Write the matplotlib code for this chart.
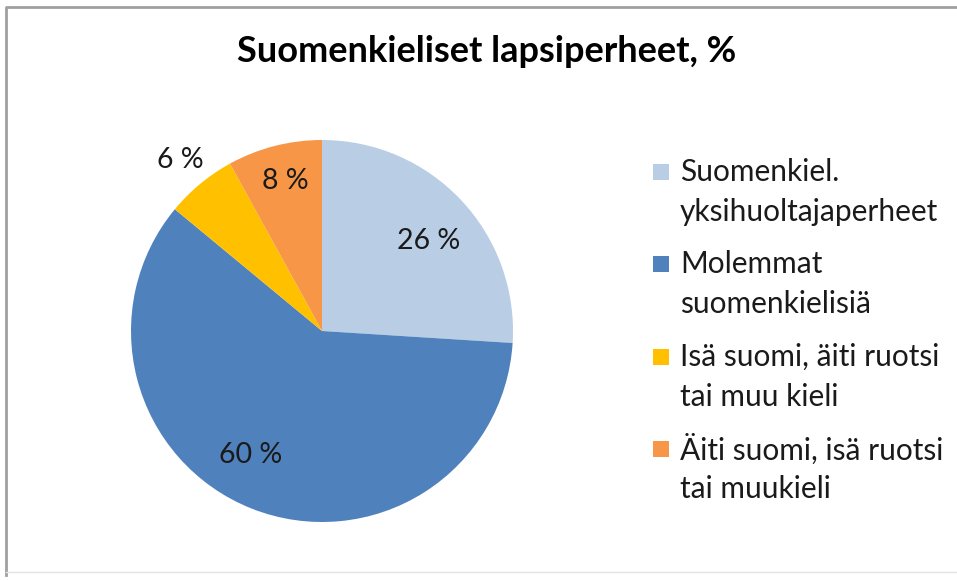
import matplotlib.pyplot as plt
from matplotlib.patches import Rectangle
import numpy as np

plt.rcParams['font.family'] = ['Lato', 'DejaVu Sans']

title = "Suomenkieliset lapsiperheet, %"
labels = [["Suomenkiel.", "yksihuoltajaperheet"],
          ["Molemmat", "suomenkielisiä"],
          ["Isä suomi, äiti ruotsi", "tai muu kieli"],
          ["Äiti suomi, isä ruotsi", "tai muukieli"]]
values = [26, 60, 6, 8]
colors = ['#B9CDE5', '#4F81BD', '#FFC000', '#F79646']
# label placement: fraction of radius and angle shift from the slice middle
label_dist = [0.73, 0.75, 1.16, 0.81]
label_shift = [-2.8, -8.4, 0.0, -0.5]

W, H = 957, 581
fig = plt.figure(figsize=(W / 100, H / 100), dpi=100)
ax = fig.add_axes([0, 0, 1, 1])

cx, cy, r = 322, H - 331, 191
wedges, _ = ax.pie(values, colors=colors, startangle=90, counterclock=False,
                   center=(cx, cy), radius=r, frame=True,
                   wedgeprops=dict(linewidth=0))
ax.set_xlim(0, W)
ax.set_ylim(0, H)
ax.set_aspect('equal')
ax.axis('off')

# chart frame
ax.plot([6, 6, W], [H - 575, H - 7, H - 7], color='#A0A0A0', lw=2)
ax.plot([6, W], [H - 572, H - 572], color='#E4E4E4', lw=1)

for w, v, d, s in zip(wedges, values, label_dist, label_shift):
    ang = np.deg2rad((w.theta1 + w.theta2) / 2 + s)
    ax.text(cx + d * r * np.cos(ang), cy + d * r * np.sin(ang), f"{v} %",
            ha='center', va='center', fontsize=20.5, color='#1a1a1a')

ax.text(487, H - 52, title, ha='center', va='center', fontsize=26,
        fontweight='bold', color='black')

# legend
ly = [172, 264, 357, 449]
for w, lab, y in zip(wedges, labels, ly):
    ax.add_patch(Rectangle((653, H - y - 8), 16, 16, facecolor=w.get_facecolor(),
                           edgecolor='none'))
    for i, line in enumerate(lab):
        ax.text(680, H - y - 40 * i, line, ha='left', va='center',
                fontsize=21.5, color='#1a1a1a')

fig.savefig('out.png', dpi=100, facecolor='white')
